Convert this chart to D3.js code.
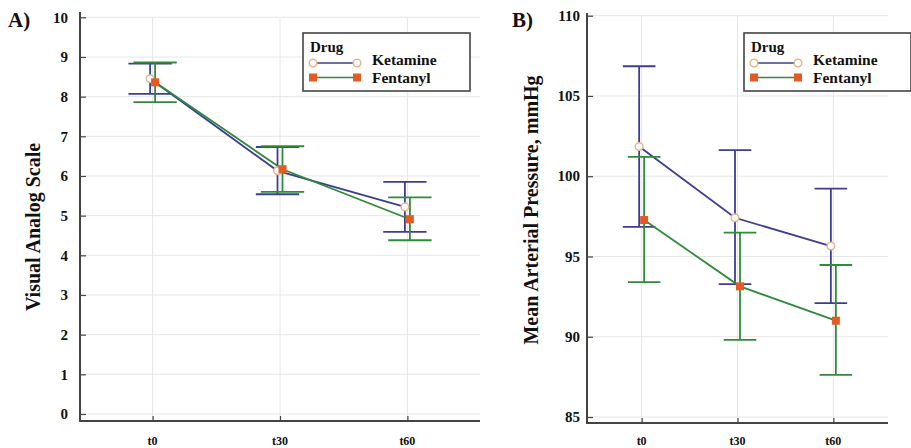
<!DOCTYPE html>
<html>
<head>
<meta charset="utf-8">
<script src="https://cdn.jsdelivr.net/npm/d3@7"></script>
<style>
  body { margin: 0; background: #fff; }
  text { font-family: "Liberation Serif", "DejaVu Serif", "Times New Roman", serif; font-weight: bold; fill: #111; }
</style>
</head>
<body>
<svg width="911" height="448"></svg>
<script>
// ---- data ----
const timepoints = ["t0", "t30", "t60"];
const drugs = ["Ketamine", "Fentanyl"];

// A) Visual Analog Scale, mean with error bar ends
const vasKetMean = [8.45, 6.13, 5.22];
const vasKetLow  = [8.07, 5.54, 4.59];
const vasKetHigh = [8.83, 6.73, 5.85];
const vasFenMean = [8.36, 6.17, 4.91];
const vasFenLow  = [7.86, 5.60, 4.38];
const vasFenHigh = [8.86, 6.75, 5.46];
const vasTicks = [0, 1, 2, 3, 4, 5, 6, 7, 8, 9, 10];

// B) Mean Arterial Pressure, mmHg
const mapKetMean = [101.85, 97.41, 95.65];
const mapKetLow  = [96.85, 93.28, 92.10];
const mapKetHigh = [106.85, 101.62, 99.23];
const mapFenMean = [97.27, 93.14, 91.00];
const mapFenLow  = [93.40, 89.80, 87.62];
const mapFenHigh = [101.20, 96.48, 94.47];
const mapTicks = [85, 90, 95, 100, 105, 110];

let svg = d3.select("svg");

const colors = { Ketamine: "#3d3d92", Fentanyl: "#2f8a3a" };
const dodge = { Ketamine: -2.5, Fentanyl: 2.5 };

function drawPanel(p) {
  let g = svg.append("g");
  let x = d3.scalePoint().domain(timepoints).range([p.left, p.right]).padding(0.57);
  let y = d3.scaleLinear().domain(p.domain).range(p.yRange);

  // grid
  g.append("g").selectAll("line").data(p.ticks).enter().append("line")
    .attr("x1", p.left).attr("x2", p.right)
    .attr("y1", d => y(d)).attr("y2", d => y(d))
    .attr("stroke", "#e6e6e6").attr("stroke-width", 1);
  g.append("g").selectAll("line").data(timepoints).enter().append("line")
    .attr("x1", d => x(d)).attr("x2", d => x(d))
    .attr("y1", y(p.domain[1])).attr("y2", p.bottom)
    .attr("stroke", "#e6e6e6").attr("stroke-width", 1);

  // axes
  let yAxis = g.append("g").attr("transform", "translate(" + p.left + ",0)")
    .call(d3.axisRight(y).tickValues(p.ticks).tickSize(6).tickFormat(""));
  yAxis.select(".domain").remove();
  yAxis.selectAll(".tick line").attr("stroke", "#444").attr("stroke-width", 1.2);
  g.append("g").selectAll("text").data(p.ticks).enter().append("text")
    .attr("x", p.left - p.labelGap).attr("y", d => y(d)).attr("dy", "0.35em")
    .attr("text-anchor", "end").style("font-size", "15px")
    .text(d => d);

  let xAxis = g.append("g").attr("transform", "translate(0," + p.bottom + ")")
    .call(d3.axisTop(x).tickSize(5).tickFormat(""));
  xAxis.select(".domain").remove();
  xAxis.selectAll(".tick line").attr("stroke", "#444").attr("stroke-width", 1.2);
  g.append("g").selectAll("text").data(timepoints).enter().append("text")
    .attr("x", d => x(d)).attr("y", 445)
    .attr("text-anchor", "middle").style("font-size", "12px")
    .text(d => d);

  g.append("line").attr("x1", p.left).attr("x2", p.left)
    .attr("y1", p.top).attr("y2", p.bottom + 1)
    .attr("stroke", "#444").attr("stroke-width", 2);
  g.append("line").attr("x1", p.left - 1).attr("x2", p.right)
    .attr("y1", p.bottom).attr("y2", p.bottom)
    .attr("stroke", "#444").attr("stroke-width", 2);

  // error bars + lines + markers
  let capHalf = x.step() * 0.17;
  p.series.forEach(function(s) {
    let pts = timepoints.map(function(t, i) {
      return { t: t, x: x(t) + dodge[s.name], m: s.mean[i], lo: s.low[i], hi: s.high[i] };
    });
    let eb = g.append("g").attr("stroke", colors[s.name]).attr("stroke-width", 1.8);
    pts.forEach(function(d) {
      eb.append("line").attr("x1", d.x).attr("x2", d.x).attr("y1", y(d.lo)).attr("y2", y(d.hi));
      eb.append("line").attr("x1", d.x - capHalf).attr("x2", d.x + capHalf).attr("y1", y(d.lo)).attr("y2", y(d.lo));
      eb.append("line").attr("x1", d.x - capHalf).attr("x2", d.x + capHalf).attr("y1", y(d.hi)).attr("y2", y(d.hi));
    });
    g.append("path").datum(pts)
      .attr("d", d3.line().x(d => d.x).y(d => y(d.m)))
      .attr("fill", "none").attr("stroke", colors[s.name]).attr("stroke-width", 1.8);
  });
  p.series.forEach(function(s) {
    timepoints.forEach(function(t, i) {
      marker(g, s.name, x(t) + dodge[s.name], y(s.mean[i]));
    });
  });

  // panel letter + axis title
  g.append("text").attr("x", p.letterX).attr("y", 27).style("font-size", "21px").text(p.letter);
  g.append("text")
    .attr("transform", "translate(" + p.titleX + "," + p.titleY + ") rotate(-90)")
    .attr("text-anchor", "middle").style("font-size", "20px")
    .text(p.title);

  legend(g, p.legendX, 33);
}

function marker(g, name, cx, cy) {
  if (name === "Ketamine") {
    g.append("circle").attr("cx", cx).attr("cy", cy).attr("r", 3.8)
      .attr("fill", "#fff").attr("stroke", "#e8b48c").attr("stroke-width", 1.5);
  } else {
    g.append("rect").attr("x", cx - 4).attr("y", cy - 4).attr("width", 8).attr("height", 8)
      .attr("fill", "#e35a22");
  }
}

function legend(g, lx, ly) {
  let lg = g.append("g");
  lg.append("rect").attr("x", lx).attr("y", ly).attr("width", 167).attr("height", 58)
    .attr("fill", "#fff").attr("stroke", "#444").attr("stroke-width", 1.6);
  lg.append("text").attr("x", lx + 7).attr("y", ly + 19).style("font-size", "15px").text("Drug");
  drugs.forEach(function(name, i) {
    let yy = ly + 30 + i * 14.5;
    lg.append("line").attr("x1", lx + 10).attr("x2", lx + 54).attr("y1", yy).attr("y2", yy)
      .attr("stroke", colors[name]).attr("stroke-width", 1.5);
    marker(lg, name, lx + 10, yy);
    marker(lg, name, lx + 54, yy);
    lg.append("text").attr("x", lx + 69).attr("y", ly + 32 + i * 18)
      .style("font-size", "15.5px").text(name);
  });
}

drawPanel({
  left: 80, right: 480, top: 12, bottom: 421,
  domain: [0, 10], yRange: [414, 17.3], ticks: vasTicks, labelGap: 12,
  letter: "A)", letterX: 8, title: "Visual Analog Scale", titleX: 40, titleY: 227,
  legendX: 303,
  series: [
    { name: "Ketamine", mean: vasKetMean, low: vasKetLow, high: vasKetHigh },
    { name: "Fentanyl", mean: vasFenMean, low: vasFenLow, high: vasFenHigh }
  ]
});

drawPanel({
  left: 587, right: 888, top: 13, bottom: 423,
  domain: [85, 110], yRange: [417, 15.7], ticks: mapTicks, labelGap: 7,
  letter: "B)", letterX: 512, title: "Mean Arterial Pressure, mmHg", titleX: 538, titleY: 210,
  legendX: 744,
  series: [
    { name: "Ketamine", mean: mapKetMean, low: mapKetLow, high: mapKetHigh },
    { name: "Fentanyl", mean: mapFenMean, low: mapFenLow, high: mapFenHigh }
  ]
});
</script>
</body>
</html>
